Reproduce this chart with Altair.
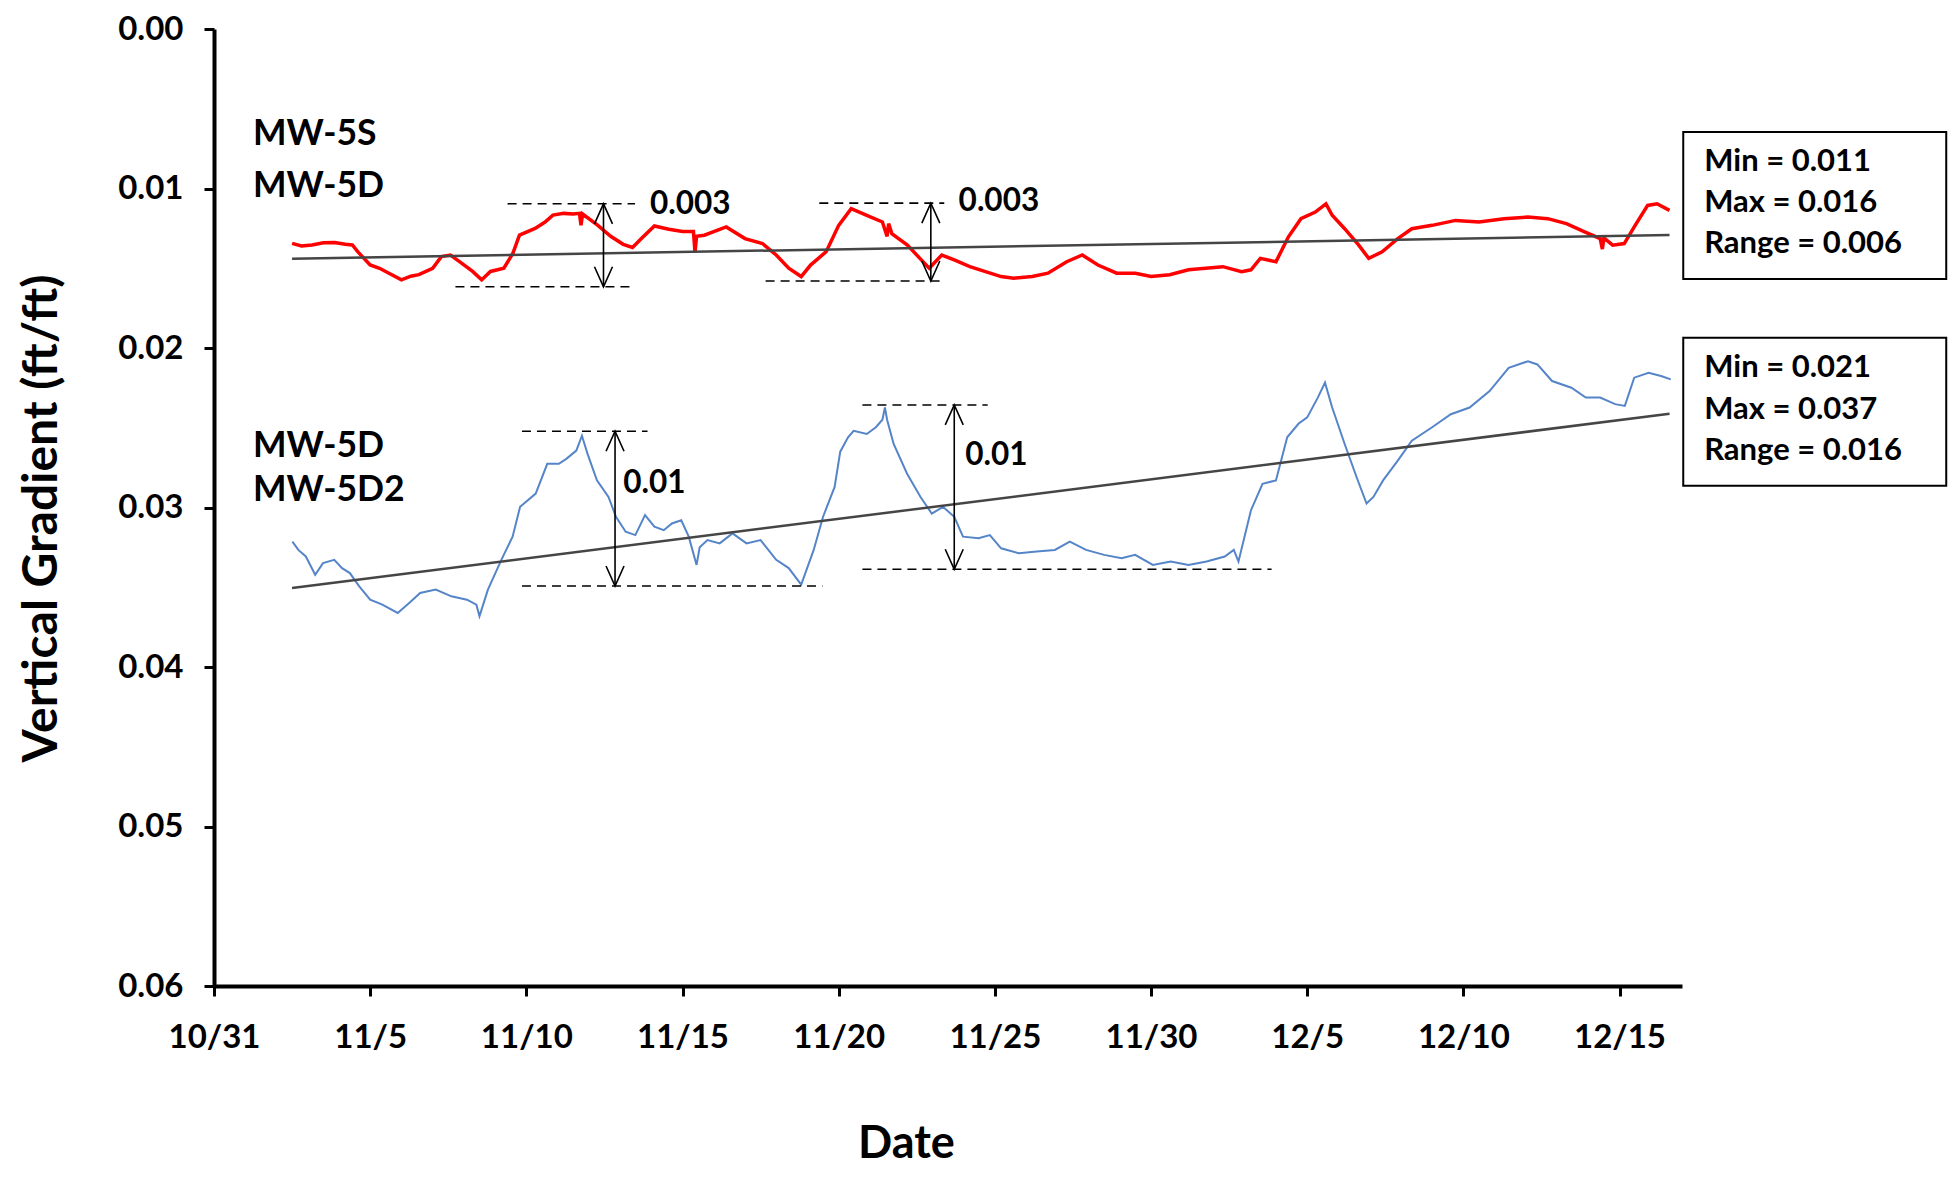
import altair as alt
import pandas as pd

# ---- data (x = days after 10/31, y = vertical gradient ft/ft) ----
red_day = [2.5, 2.8, 3.14, 3.5, 3.86, 4.2, 4.43, 4.6, 5.0, 5.3, 5.6, 6.0, 6.3, 6.56, 7.0, 7.28,
           7.57, 7.86, 8.28, 8.57, 8.85, 9.28, 9.57, 9.78, 10.28, 10.6, 10.85, 11.2, 11.5, 11.7,
           11.75, 11.8, 12.28, 12.7, 13.1, 13.4, 13.7, 14.1, 14.56, 15.0, 15.35, 15.4, 15.45,
           15.7, 16.0, 16.4, 17.0, 17.56, 18.0, 18.4, 18.8, 19.1, 19.6, 20.0, 20.4, 20.9, 21.4,
           21.55, 21.6, 21.7, 22.2, 22.6, 22.9, 23.3, 23.7, 24.2, 24.7, 25.2, 25.6, 26.2, 26.7,
           27.3, 27.8, 28.3, 28.9, 29.5, 30.0, 30.6, 31.2, 31.75, 32.3, 32.9, 33.2, 33.5, 34.0,
           34.4, 34.8, 35.26, 35.6, 35.8, 36.2, 36.65, 36.97, 37.4, 37.9, 38.35, 39.0, 39.75,
           40.5, 41.3, 42.07, 42.7, 43.3, 43.9, 44.38, 44.45, 44.5, 44.78, 45.15, 45.5, 45.9,
           46.2, 46.6]
red_val = [0.01344, 0.0136, 0.01354, 0.0134, 0.01338, 0.0135, 0.01354, 0.01396, 0.01479, 0.0150,
           0.01531, 0.01573, 0.0155, 0.0154, 0.0150, 0.01427, 0.01417, 0.01458, 0.0152, 0.01573,
           0.0152, 0.0150, 0.01406, 0.01292, 0.0125, 0.0121, 0.01167, 0.01156, 0.0116, 0.01156,
           0.0123, 0.0116, 0.0123, 0.0130, 0.0135, 0.0137, 0.0131, 0.01235, 0.01255, 0.0127,
           0.0127, 0.0140, 0.0130, 0.01293, 0.0127, 0.01241, 0.01314, 0.01345, 0.01417, 0.0150,
           0.01552, 0.0148, 0.01396, 0.01231, 0.01127, 0.01169, 0.0121, 0.0130, 0.0122, 0.01283,
           0.01355, 0.01438, 0.0150, 0.01417, 0.01448, 0.0149, 0.01521, 0.01552, 0.01562,
           0.01552, 0.01531, 0.01459, 0.01417, 0.0148, 0.01531, 0.01531, 0.01552, 0.01541,
           0.0151, 0.0150, 0.0149, 0.01521, 0.0151, 0.01438, 0.01459, 0.01303, 0.01189, 0.01148,
           0.01096, 0.01168, 0.01252, 0.01355, 0.01438, 0.01397, 0.01314, 0.01252, 0.01231,
           0.0120, 0.0121, 0.01189, 0.01179, 0.01189, 0.0122, 0.01273, 0.01314, 0.0138, 0.0131,
           0.01355, 0.01345, 0.01231, 0.01106, 0.01096, 0.01137]

blue_day = [2.51, 2.7, 2.94, 3.24, 3.49, 3.85, 4.1, 4.35, 4.65, 5.0, 5.39, 5.88, 6.25, 6.6, 7.1,
            7.6, 8.1, 8.4, 8.5, 8.77, 9.2, 9.56, 9.8, 10.3, 10.67, 11.04, 11.28, 11.6, 11.78,
            11.96, 12.26, 12.63, 12.87, 13.18, 13.49, 13.8, 14.1, 14.4, 14.66, 14.96, 15.2,
            15.45, 15.55, 15.8, 16.19, 16.6, 17.05, 17.5, 18.0, 18.4, 18.8, 19.2, 19.5, 19.87,
            20.05, 20.3, 20.48, 20.9, 21.19, 21.4, 21.48, 21.55, 21.76, 22.19, 22.62, 22.98,
            23.34, 23.7, 23.98, 24.48, 24.84, 25.2, 25.77, 26.34, 26.92, 27.4, 27.92, 28.5,
            29.06, 29.49, 30.06, 30.63, 31.2, 31.78, 32.36, 32.65, 32.8, 33.2, 33.57, 34.0,
            34.36, 34.72, 35.0, 35.34, 35.57, 35.8, 36.2, 36.58, 36.9, 37.12, 37.43, 37.9,
            38.35, 39.0, 39.6, 40.2, 40.84, 41.45, 42.07, 42.37, 42.84, 43.46, 43.92, 44.38,
            44.86, 45.17, 45.47, 45.93, 46.33, 46.64]
blue_val = [0.03214, 0.03266, 0.03307, 0.03422, 0.03349, 0.03328, 0.0338, 0.03411, 0.03494,
            0.03578, 0.03609, 0.03661, 0.03598, 0.03536, 0.03515, 0.03557, 0.03578, 0.03609,
            0.03681, 0.03515, 0.03328, 0.03183, 0.02996, 0.02913, 0.02726, 0.02726, 0.02695,
            0.02643, 0.0255, 0.02664, 0.0283, 0.02934, 0.03058, 0.03152, 0.03173, 0.03048,
            0.0312, 0.03142, 0.031, 0.0308, 0.03183, 0.0336, 0.0325, 0.03204, 0.03225, 0.03162,
            0.03225, 0.03204, 0.03328, 0.0338, 0.03484, 0.03266, 0.03058, 0.02871, 0.0265,
            0.0256, 0.02519, 0.02539, 0.02497, 0.0245, 0.02373, 0.0245, 0.02602, 0.02788,
            0.02934, 0.03038, 0.02996, 0.03058, 0.03183, 0.03193, 0.03173, 0.03256, 0.03287,
            0.03276, 0.03266, 0.03214, 0.03266, 0.03297, 0.03318, 0.03297, 0.0336, 0.03339,
            0.0336, 0.03339, 0.03307, 0.03266, 0.03339, 0.03017, 0.02851, 0.0283, 0.0256,
            0.02475, 0.02435, 0.02311, 0.02217, 0.02373, 0.02602, 0.02809, 0.02975, 0.02934,
            0.0283, 0.02706, 0.02581, 0.02497, 0.02415, 0.02373, 0.0227, 0.02124, 0.02083,
            0.02103, 0.02207, 0.02249, 0.02311, 0.02311, 0.02352, 0.02363, 0.02186, 0.02155,
            0.02176, 0.02197]

trend_series = ["MW-5S/MW-5D", "MW-5S/MW-5D", "MW-5D/MW-5D2", "MW-5D/MW-5D2"]
trend_day = [2.5, 46.6, 2.5, 46.6]
trend_val = [0.01440, 0.01292, 0.03505, 0.02412]

dash_x1 = [9.4, 7.73, 19.38, 17.66, 9.86, 9.86, 20.76, 20.76]
dash_x2 = [13.48, 13.48, 23.38, 23.38, 13.88, 19.48, 24.77, 33.86]
dash_y = [0.01096, 0.01616, 0.01092, 0.0158, 0.02522, 0.03492, 0.02357, 0.03387]

arrow_x = [12.47, 22.95, 12.84, 23.7]
arrow_top = [0.01096, 0.01092, 0.02522, 0.02357]
arrow_bottom = [0.01616, 0.0158, 0.03492, 0.03387]

range_text = ["0.003", "0.003", "0.01", "0.01"]
range_text_x = [13.96, 23.84, 13.1, 24.05]
range_text_y = [0.01106, 0.01086, 0.02851, 0.02674]

pair_text = ["MW-5S", "MW-5D", "MW-5D", "MW-5D2"]
pair_text_x = [1.25, 1.25, 1.25, 1.25]
pair_text_y = [0.00658, 0.00982, 0.02612, 0.02892]

stats_text = ["Min = 0.011", "Max = 0.016", "Range = 0.006",
              "Min = 0.021", "Max = 0.037", "Range = 0.016"]
stats_x = [47.71] * 6
stats_y = [0.00832, 0.01092, 0.01351, 0.02128, 0.02388, 0.02647]

box_x1 = [47.04, 47.04]
box_x2 = [55.46, 55.46]
box_y1 = [0.00645, 0.01935]
box_y2 = [0.01567, 0.02863]

x_tick_days = [0, 5, 10, 15, 20, 25, 30, 35, 40, 45]
x_tick_labels = ["10/31", "11/5", "11/10", "11/15", "11/20", "11/25", "11/30", "12/5", "12/10", "12/15"]
y_ticks = [0.0, 0.01, 0.02, 0.03, 0.04, 0.05, 0.06]

# ---- frames ----
red_df = pd.DataFrame({"x": red_day, "y": red_val})
blue_df = pd.DataFrame({"x": blue_day, "y": blue_val})
trend_df = pd.DataFrame({"s": trend_series, "x": trend_day, "y": trend_val})
dash_df = pd.DataFrame({"x": dash_x1, "x2": dash_x2, "y": dash_y})
arrow_df = pd.DataFrame({"x": arrow_x, "y": arrow_top, "y2": arrow_bottom})
head_up_df = pd.DataFrame({"x": arrow_x, "y": arrow_top})
head_dn_df = pd.DataFrame({"x": arrow_x, "y": arrow_bottom})
range_df = pd.DataFrame({"t": range_text, "x": range_text_x, "y": range_text_y})
pair_df = pd.DataFrame({"t": pair_text, "x": pair_text_x, "y": pair_text_y})
stats_df = pd.DataFrame({"t": stats_text, "x": stats_x, "y": stats_y})
box_df = pd.DataFrame({"x": box_x1, "x2": box_x2, "y": box_y1, "y2": box_y2})

FONT = "Lato"
label_expr = "[" + ",".join("'%s'" % s for s in x_tick_labels) + "][round(datum.value/5)]"

xscale = alt.Scale(domain=[0, 47], nice=False, zero=False)
yscale = alt.Scale(domain=[0, 0.06], reverse=True, nice=False)

xaxis = alt.Axis(values=x_tick_days, labelExpr=label_expr, title="Date", grid=False,
                 domainColor="black", domainWidth=4, tickColor="black", tickWidth=3,
                 tickSize=10, labelFont=FONT, labelFontWeight="bold", labelFontSize=33,
                 labelColor="black", labelPadding=25, labelFlush=False, labelOverlap=False,
                 titleFont=FONT, titleFontWeight="bold", titleFontSize=45, titleColor="black",
                 titleX=692, titleY=157, titleAlign="center", titleBaseline="middle")
yaxis = alt.Axis(values=y_ticks, format=".2f", title="Vertical Gradient (ft/ft)", grid=False,
                 domainColor="black", domainWidth=4, tickColor="black", tickWidth=3,
                 tickSize=10, labelFont=FONT, labelFontWeight="bold", labelFontSize=33,
                 labelColor="black", labelPadding=21, labelFlush=False, labelOverlap=False,
                 titleFont=FONT, titleFontWeight="bold", titleFontSize=48, titleColor="black",
                 titleX=-172, titleY=489, titleAlign="center", titleBaseline="middle",
                 titleAngle=270)

X = alt.X("x:Q", scale=xscale, axis=xaxis)
Y = alt.Y("y:Q", scale=yscale, axis=yaxis)

red = alt.Chart(red_df).mark_line(color="#FF0000", strokeWidth=3.5).encode(x=X, y=Y)
blue = alt.Chart(blue_df).mark_line(color="#5585C8", strokeWidth=2).encode(x=X, y=Y)
trend = alt.Chart(trend_df).mark_line(color="#454545", strokeWidth=2.5).encode(
    x=X, y=Y, detail="s:N")
dashes = alt.Chart(dash_df).mark_rule(color="black", strokeWidth=1.6, strokeDash=[9, 6]).encode(
    x=X, x2="x2:Q", y=Y)
arrows = alt.Chart(arrow_df).mark_rule(color="black", strokeWidth=1.6).encode(
    x=X, y=Y, y2="y2:Q")
head_up = alt.Chart(head_up_df).mark_point(
    shape="M -0.45 1 L 0 0 L 0.45 1", size=1600, filled=False, color="black",
    strokeWidth=1.6, opacity=1).encode(x=X, y=Y)
head_dn = alt.Chart(head_dn_df).mark_point(
    shape="M -0.45 -1 L 0 0 L 0.45 -1", size=1600, filled=False, color="black",
    strokeWidth=1.6, opacity=1).encode(x=X, y=Y)
range_lbl = alt.Chart(range_df).mark_text(
    font=FONT, fontWeight="bold", fontSize=31.5, align="left", baseline="middle",
    color="black").encode(x=X, y=Y, text="t:N")
pair_lbl = alt.Chart(pair_df).mark_text(
    font=FONT, fontWeight="bold", fontSize=35.5, align="left", baseline="middle",
    color="black").encode(x=X, y=Y, text="t:N")
boxes = alt.Chart(box_df).mark_rect(fill="white", stroke="black", strokeWidth=2).encode(
    x=X, x2="x2:Q", y=Y, y2="y2:Q")
stats_lbl = alt.Chart(stats_df).mark_text(
    font=FONT, fontWeight="bold", fontSize=31, align="left", baseline="middle",
    color="black").encode(x=X, y=Y, text="t:N")

chart = alt.layer(
    red, blue, trend, dashes, arrows, head_up, head_dn, range_lbl, pair_lbl, boxes, stats_lbl
).properties(
    width=1468, height=957,
    autosize=alt.AutoSizeParams(type="none"),
    padding={"left": 206, "top": 21, "right": 266, "bottom": 185},
    background="white",
).configure_view(stroke=None)

chart.save("out.html", embed_options={"renderer": "svg", "actions": False})
